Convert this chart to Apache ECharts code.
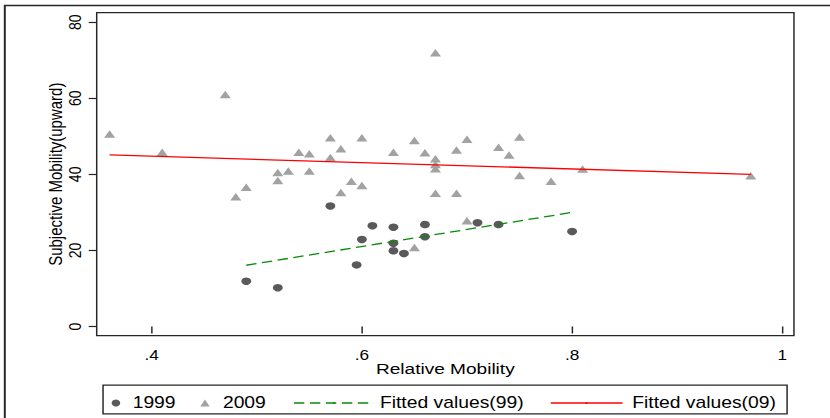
<!DOCTYPE html>
<html>
<head>
<meta charset="utf-8">
<title>Relative vs Subjective Mobility</title>
<script src="https://cdn.jsdelivr.net/npm/echarts@6/dist/echarts.min.js"></script>
<style>
  html, body { margin: 0; padding: 0; background: #fff; overflow: hidden; }
  /* the graph is laid out narrower and widened horizontally, like the original export */
  #chart { width: 675px; height: 418px; transform: scaleX(1.22963); transform-origin: 0 0; }
</style>
</head>
<body>
<div id="chart"></div>
<script>
// 1999 survey: relative mobility vs. subjective (upward) mobility
const rel1999  = [0.49, 0.52, 0.57, 0.595, 0.60, 0.61, 0.63, 0.63, 0.63, 0.64, 0.66, 0.66, 0.71, 0.73, 0.80];
const subj1999 = [11.9, 10.2, 31.7, 16.2, 22.9, 26.5, 26.1, 21.9, 19.9, 19.2, 26.8, 23.6, 27.3, 26.8, 25.0];

// 2009 survey
const rel2009  = [0.36, 0.41, 0.47, 0.48, 0.49, 0.52, 0.52, 0.53, 0.54, 0.55,
                  0.55, 0.57, 0.57, 0.58, 0.58, 0.59, 0.60, 0.60, 0.63, 0.65,
                  0.65, 0.66, 0.67, 0.67, 0.67, 0.67, 0.67, 0.69, 0.69, 0.70,
                  0.70, 0.73, 0.74, 0.75, 0.75, 0.78, 0.81, 0.97];
const subj2009 = [50.6, 45.8, 61.0, 34.1, 36.6, 40.5, 38.4, 40.9, 45.8, 45.4,
                  40.9, 49.6, 44.4, 46.7, 35.2, 38.2, 49.6, 37.1, 45.8, 48.9,
                  20.8, 45.7, 72.0, 44.1, 42.6, 41.5, 35.0, 46.4, 35.0, 49.2,
                  27.8, 47.1, 45.1, 49.8, 39.7, 38.2, 41.4, 39.6];

// linear fits (end points)
const fit99Rel = [0.49, 0.80];
const fit99Val = [16.1, 30.0];
const fit09Rel = [0.36, 0.97];
const fit09Val = [45.1, 40.0];

// axis ticks
const xTicks = [0.4, 0.6, 0.8, 1.0];
const yTicks = [0, 20, 40, 60, 80];

const seriesNames = ['1999', '2009', 'Fitted values(99)', 'Fitted values(09)'];

const zip = (xs, ys) => xs.map((x, i) => [x, ys[i]]);
const FONT = "'Liberation Sans', Arial, Helvetica, sans-serif";
const W = 675, H = 418;

const chart = echarts.init(document.getElementById('chart'), null, { renderer: 'svg', width: W, height: H });

const legendText = { fontFamily: FONT, fontSize: 15.7, color: '#000' };
function legendAt(left, name, itemWidth, itemHeight, padLeft, extra) {
  return Object.assign({
    data: [name], left: left, top: 395, padding: 0, orient: 'horizontal',
    itemWidth: itemWidth, itemHeight: itemHeight, itemGap: 0,
    selectedMode: false,
    textStyle: Object.assign({}, legendText, padLeft ? { padding: [0, 0, 0, padLeft] } : {})
  }, extra || {});
}

chart.setOption({
  animation: false,
  backgroundColor: '#fff',
  grid: {
    left: 78.64, right: 29.3, top: 12.7, bottom: 82.3,
    show: true, borderColor: '#262626', borderWidth: 1.2, backgroundColor: '#fff'
  },
  xAxis: {
    type: 'value', min: 0.3477, max: 1.0111,
    name: 'Relative Mobility', nameLocation: 'middle', nameGap: 25, nameMoveOverlap: false,
    nameTextStyle: { fontFamily: FONT, fontSize: 15.5, color: '#000' },
    axisLine: { show: false },
    splitLine: { show: false },
    axisTick: { show: true, customValues: xTicks, length: 7, lineStyle: { color: '#262626', width: 1.2 } },
    axisLabel: {
      customValues: xTicks, margin: 12,
      fontFamily: FONT, fontSize: 14, color: '#000',
      formatter: v => (v >= 1 ? String(Math.round(v)) : String(+v.toFixed(1)).replace(/^0/, ''))
    }
  },
  yAxis: {
    type: 'value', min: -2.42, max: 82.5,
    name: 'Subjective Mobility(upward)', nameLocation: 'middle', nameGap: 26, nameRotate: 90,
    nameMoveOverlap: false,
    nameTextStyle: { fontFamily: FONT, fontSize: 15, color: '#000' },
    axisLine: { show: false },
    splitLine: { show: false },
    axisTick: { show: true, customValues: yTicks, length: 6.5, lineStyle: { color: '#262626', width: 1.2 } },
    axisLabel: {
      customValues: yTicks, rotate: 90, margin: 10.8,
      fontFamily: FONT, fontSize: 14, color: '#000'
    }
  },
  legend: [
    legendAt(90.8, seriesNames[0], 7, 7, 5.1),
    legendAt(162.9, seriesNames[1], 7.6, 7, 5.8),
    legendAt(238.3, seriesNames[2], 65, 2, 0, { lineStyle: { width: 1.4 } }),
    legendAt(447.2, seriesNames[3], 58.3, 2, 3, { lineStyle: { width: 1.4 } })
  ],
  graphic: [
    // outer frame of the graph
    { type: 'rect', silent: true, z: 100,
      shape: { x: 3.9, y: 5.5, width: W + 20, height: H + 20 },
      style: { fill: 'none', stroke: '#262626', lineWidth: 1.6 } },
    // legend box
    { type: 'rect', silent: true, z: 100,
      shape: { x: 83.8, y: 385.2, width: 556.3, height: 28.6 },
      style: { fill: 'none', stroke: '#262626', lineWidth: 1.2 } }
  ],
  series: [
    {
      name: seriesNames[0], type: 'scatter', symbol: 'circle', symbolSize: [8, 7.5],
      itemStyle: { color: '#5a5a5a', opacity: 1 },
      data: zip(rel1999, subj1999), z: 2
    },
    {
      name: seriesNames[1], type: 'scatter', symbol: 'triangle', symbolSize: [9, 7.5],
      itemStyle: { color: '#a2a2a2', opacity: 1 },
      data: zip(rel2009, subj2009), z: 3
    },
    {
      name: seriesNames[2], type: 'line', symbol: 'none', showSymbol: false,
      itemStyle: { color: '#0a8a0a' },
      lineStyle: { color: '#0a8a0a', width: 1.3, type: [8.5, 4.5] },
      data: zip(fit99Rel, fit99Val), z: 4
    },
    {
      name: seriesNames[3], type: 'line', symbol: 'none', showSymbol: false,
      itemStyle: { color: '#ff0000' },
      lineStyle: { color: '#ff0000', width: 1.3 },
      data: zip(fit09Rel, fit09Val), z: 5
    }
  ]
});
</script>
</body>
</html>
